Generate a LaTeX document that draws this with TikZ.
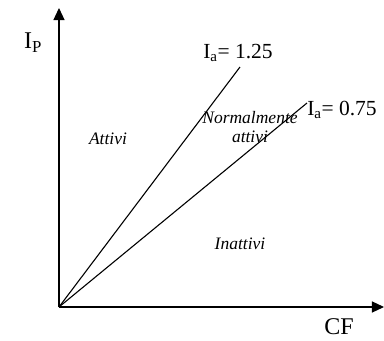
\documentclass[tikz,border=0pt]{standalone}
\usepackage{fontspec}
\setmainfont{Liberation Serif}
\usetikzlibrary{arrows.meta}

\begin{document}
\begin{tikzpicture}[x=1pt, y=1pt,
        >={Triangle[length=12pt,width=11pt]},
        axis/.style={->, line width=1.2pt},
        ray/.style={line width=1.1pt},
        lbl/.style={font=\fontsize{24}{26}\selectfont, inner sep=0pt},
        val/.style={font=\fontsize{21.5}{23}\selectfont, inner sep=0pt},
        zone/.style={font=\fontsize{17.5}{19}\selectfont\itshape, inner sep=0pt, align=center}]
        \useasboundingbox (-59,-34) rectangle (325,307);
        \coordinate (o) at (0,0);
        \coordinate (ytip) at (0,299);
        \coordinate (xtip) at (325,0);
        \coordinate (r125) at (181,240);
        \coordinate (r075) at (248,204);
        % axes
        \draw[axis] (o) -- (ytip);
        \draw[axis] (o) -- (xtip);
        \node[lbl] (ip) at (-26,264) {I\textsubscript{P}};
        \node[lbl] (cf) at (280,-20) {CF};
        % rays
        \draw[ray] (o) -- (r125);
        \draw[ray] (o) -- (r075);
        \node[val] (l125) at (179,254) {I\textsubscript{a}= 1.25};
        \node[val] (l075) at (283,197) {I\textsubscript{a}= 0.75};
        % zones
        \node[zone] (att) at (49,168) {Attivi};
        \node[zone] (norm) at (191,180) {Normalmente\\ attivi};
        \node[zone] (inatt) at (181,63) {Inattivi};
    \end{tikzpicture}
\end{document}
